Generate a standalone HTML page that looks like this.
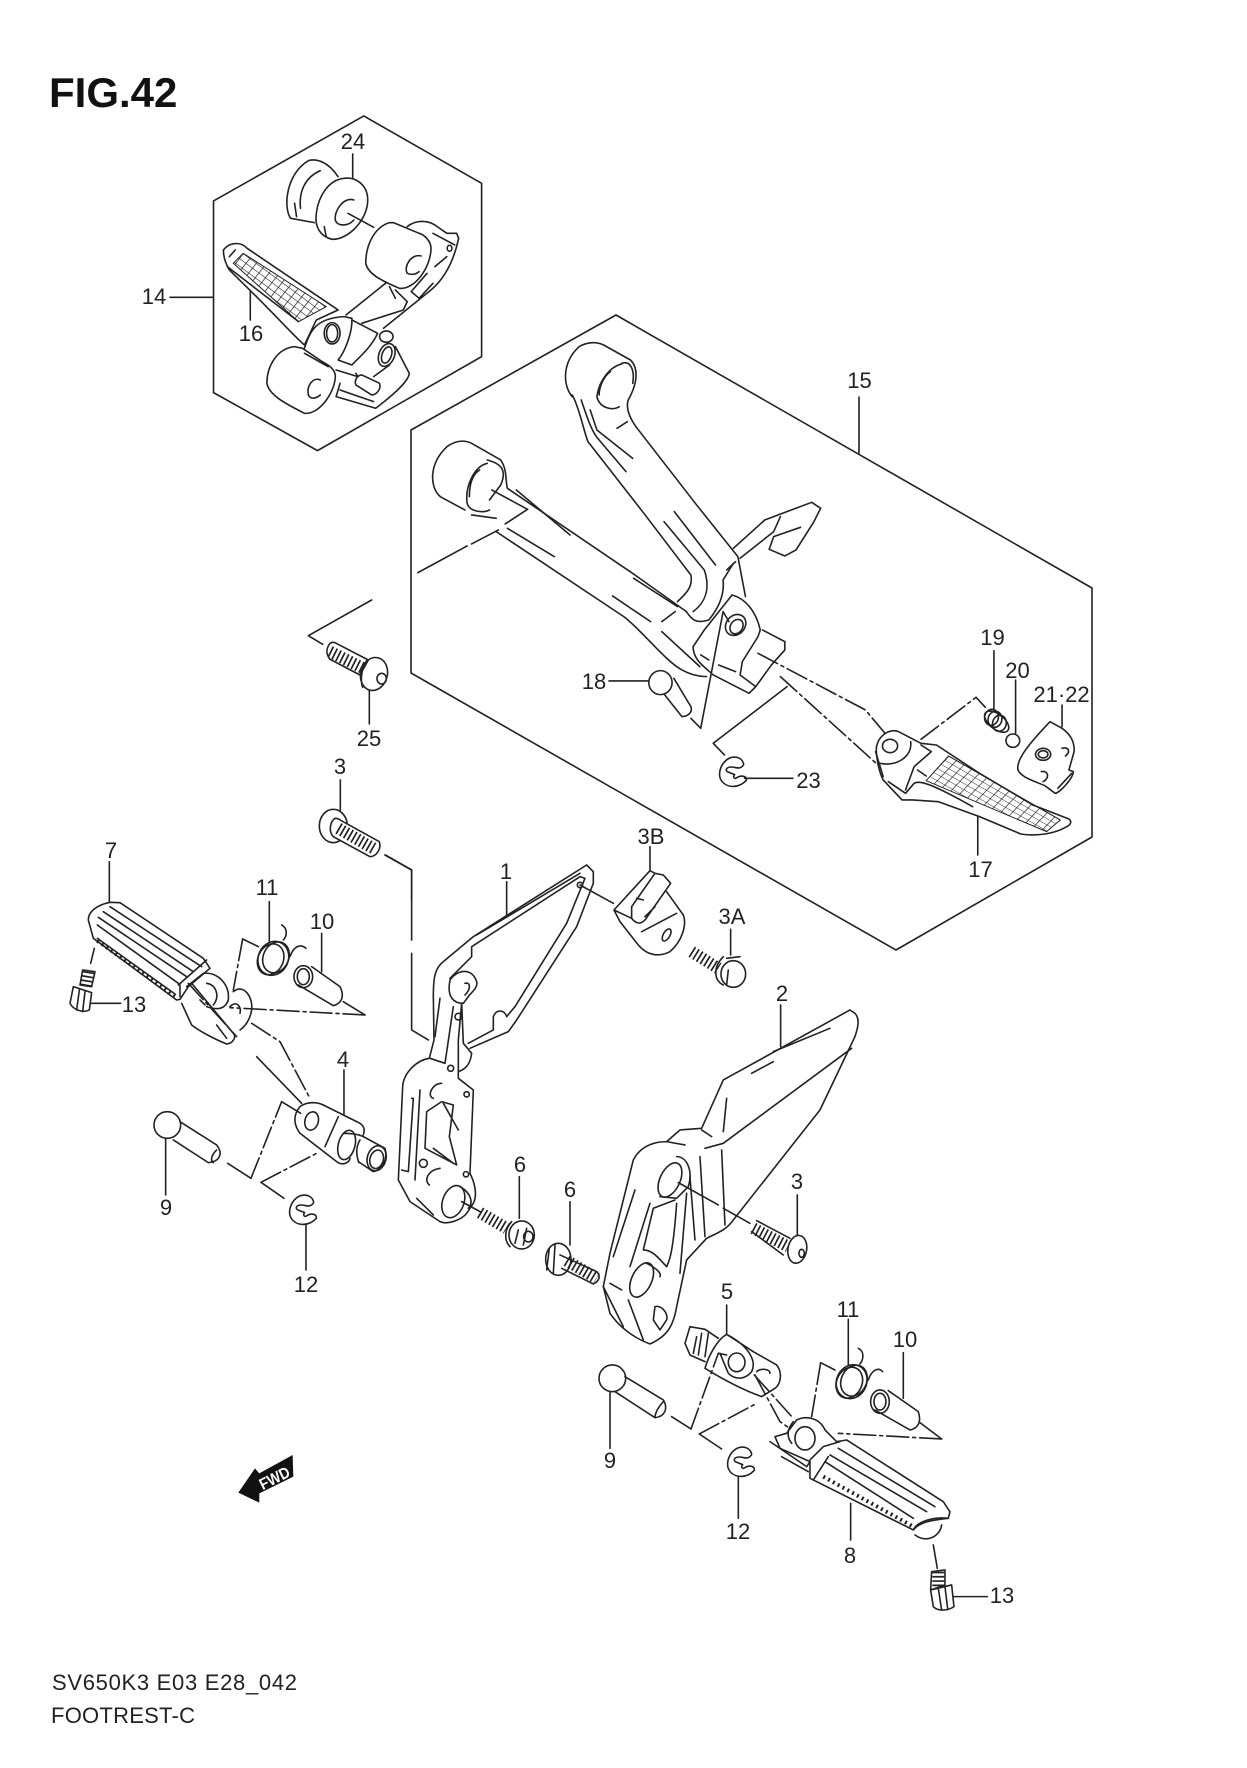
<!DOCTYPE html>
<html><head><meta charset="utf-8"><style>
html,body{margin:0;padding:0;background:#fff}
svg{display:block}
path,ellipse,circle,polygon{vector-effect:non-scaling-stroke}
.l path,.l ellipse,.l circle,.l polygon{fill:none;stroke:#222;stroke-width:1.6;stroke-linecap:round;stroke-linejoin:round}
.l .w{fill:#fff}
.l .dd{stroke-dasharray:22 4 3 4}
.l .th{stroke-width:12;stroke-dasharray:1.7 2.6;stroke-linecap:butt}
.l .tt{stroke-width:4;stroke-dasharray:2 3.5;stroke-linecap:butt}
text{font-family:"Liberation Sans",sans-serif;font-size:22px;fill:#222;text-anchor:middle}
</style></head><body>
<svg width="1247" height="1768" viewBox="0 0 1247 1768" xmlns="http://www.w3.org/2000/svg">
<defs>
<pattern id="g1" patternUnits="userSpaceOnUse" width="10" height="10" patternTransform="matrix(1.64 1.44 -.96 1.44 615 760)"><path d="M0 0H10M0 0V10" fill="none" stroke="#222" stroke-width="1.8"/></pattern>
<pattern id="g2" patternUnits="userSpaceOnUse" width="10" height="10" patternTransform="matrix(2.2 1.3 -1.1 1.2 330 408)"><path d="M0 0H10M0 0V10" fill="none" stroke="#222" stroke-width="1.6"/></pattern>
</defs>
<rect width="1247" height="1768" fill="#fff"/>

<!-- hexagon frames -->
<g class="l">
<path d="M616 315L1092 588V837L896 950L411 673V430Z"/>
<path d="M859 397V453"/>
</g>

<!-- zoom1 group: part 14 -->
<g class="l" transform="translate(0,0) scale(.3954,.3333)">
<path d="M920 348L1218 550V1070L803 1352L540 1178V603Z"/>
<path d="M430 892H540M892 462V540M633 875V960"/>
<path d="M735 655C715 620 725 520 780 482C800 475 830 485 855 530M760 625C755 570 775 530 810 512M735 655L795 668M745 610L750 650"/>
<path class="w" d="M870 535C900 530 930 555 930 600C930 660 880 720 840 718C810 710 795 680 800 640C805 590 830 540 870 535Z"/>
<path d="M895 600C870 590 845 630 848 660C852 680 880 680 895 660M820 680L825 710M880 640L945 682"/>
<path d="M1030 680C1050 660 1080 660 1100 675L1130 700L1155 700L1160 715C1150 770 1130 830 1090 870L970 985M1095 700L1150 735M1080 820L1040 875L1060 895L1095 850M1100 800L1130 770"/>
<ellipse cx="1137" cy="745" rx="6" ry="9"/>
<path class="w" d="M985 668C950 680 925 730 925 790C930 820 960 840 1010 865C1050 870 1090 800 1090 745C1090 725 1075 705 1060 700L995 668Z"/>
<path d="M1065 768C1040 760 1020 800 1030 820C1040 825 1050 825 1060 815"/>
<path d="M975 850L875 945M1000 870L1030 905L1020 930L915 970M985 860L1000 895"/>
<path class="w" d="M565 750C580 725 610 725 625 745L855 930L800 960L770 1035C745 1010 700 950 640 880L580 810C575 800 565 780 565 750Z"/>
<polygon points="590,790 615,760 825,920 755,965" style="fill:url(#g1);stroke-width:1"/>
<path d="M575 800L755 965M580 770L595 750"/>
<path class="w" d="M770 1045C785 990 800 955 870 950L890 955C892 1000 870 1060 855 1080L890 1095C910 1070 940 1040 955 1000L890 960"/>
<ellipse cx="840" cy="1000" rx="20" ry="32"/><ellipse cx="840" cy="1000" rx="14" ry="26"/>
<path d="M1000 1040L1035 1120C1035 1140 1000 1180 950 1225L850 1190L860 1150M860 1170L945 1205M850 1110L905 1130L900 1120"/>
<ellipse cx="978" cy="1065" rx="20" ry="35" transform="rotate(15 978 1065)"/><ellipse cx="978" cy="1065" rx="12" ry="25" transform="rotate(15 978 1065)"/><circle cx="977" cy="1010" r="17"/>
<path d="M985 1095L945 1130"/>
<path class="w" d="M915 1125L960 1150C965 1170 950 1185 940 1185L900 1155C895 1140 905 1125 915 1125Z"/>
<path class="w" d="M745 1040C700 1045 675 1100 675 1150C680 1185 720 1210 770 1240C810 1245 850 1170 848 1125C845 1105 830 1095 815 1085L765 1045Z"/>
<path d="M810 1140C790 1130 775 1160 780 1185C785 1200 800 1195 810 1185M770 1060L830 1100"/>
</g>

<!-- zoom2 group: part 15 -->
<g class="l" transform="translate(400,300) scale(.4475,.3333)">
<path d="M385 290C365 260 360 190 400 140C420 125 440 125 455 135L515 180C530 200 535 240 510 300C505 320 510 350 530 385L660 610L755 770L772 890"/>
<path d="M385 285C400 320 410 390 420 425L545 640L650 825C655 860 640 880 620 905"/>
<path d="M495 192C470 200 445 240 440 290C445 320 470 335 490 320M495 190C515 180 525 210 520 250M470 215C455 230 445 260 445 285M405 300C420 360 430 400 445 420L505 515M425 330L440 390L520 475M485 385L508 365"/>
<path d="M590 665L680 810C695 870 680 910 655 935M613 635L705 795M730 810L750 785"/>
<path d="M90 590C65 560 65 490 105 440C125 420 145 420 160 430L225 480C240 510 235 540 240 565L525 825L640 935C655 965 665 970 690 960C715 920 725 880 722 840L745 790"/>
<path d="M90 590L145 630M215 695L500 950C540 990 590 1080 630 1110C650 1125 670 1130 685 1130"/>
<path d="M195 490C165 500 145 560 150 610C155 635 185 640 200 630M195 480C225 490 240 510 225 555L200 600M178 510C160 525 155 560 155 590M160 645L215 655M205 570L285 628M240 685L345 770M260 570L380 705M522 835L620 920M475 888L560 965M585 995L670 1100M585 965L615 935"/>
<path d="M285 628L235 672M220 690L160 732M150 738L40 818"/>
<path d="M745 745L815 660L920 607L940 625L925 665L885 750L860 768L825 748L835 710L895 682M760 775L835 695L850 650"/>
<path d="M742 885C770 895 795 930 805 990L800 1010L765 1085L760 1125L795 1160L830 1095L860 1050L860 1025L810 990M742 885L680 990L655 1040C655 1080 680 1100 700 1125L780 1180L795 1160"/>
<ellipse cx="750" cy="975" rx="22" ry="32" transform="rotate(15 750 975)"/><ellipse cx="752" cy="980" rx="14" ry="22" transform="rotate(15 752 980)"/>
<path d="M672 1065L690 1080M712 1095L750 1115"/>
<path d="M722 935L672 1285L650 1255M722 935L735 965"/>
<ellipse cx="582" cy="1148" rx="26" ry="36"/>
<path d="M590 1182L630 1250M612 1135L650 1220C655 1240 640 1250 630 1250M467 1143H555"/>
<path d="M865 1160L700 1330L725 1365"/>
<path class="dd" d="M850 1130L1068 1395"/>
<path class="dd" d="M800 1060L1040 1230L1090 1310"/>
<path d="M770 1435H878"/>
</g>

<!-- E-clips -->
<g class="l">
<path transform="translate(733,772) scale(.3333) translate(-730,-1110)" d="M762 1088C760 1070 740 1060 720 1068C695 1080 685 1110 692 1130C705 1158 745 1162 770 1135C772 1122 755 1118 740 1128C735 1132 728 1125 735 1118L715 1110C705 1105 710 1095 725 1095C740 1095 750 1105 762 1088Z"/>
<path transform="translate(303,1210) scale(.3333) translate(-730,-1110)" d="M762 1088C760 1070 740 1060 720 1068C695 1080 685 1110 692 1130C705 1158 745 1162 770 1135C772 1122 755 1118 740 1128C735 1132 728 1125 735 1118L715 1110C705 1105 710 1095 725 1095C740 1095 750 1105 762 1088Z"/>
<path transform="translate(741,1462) scale(.3333) translate(-730,-1110)" d="M762 1088C760 1070 740 1060 720 1068C695 1080 685 1110 692 1130C705 1158 745 1162 770 1135C772 1122 755 1118 740 1128C735 1132 728 1125 735 1118L715 1110C705 1105 710 1095 725 1095C740 1095 750 1105 762 1088Z"/>
</g>

<!-- zoom8 group: peg 17 -->
<g class="l" transform="translate(835,620) scale(.344,.3333)">
<path class="w" d="M120 385C125 345 160 325 185 335L250 370L295 375L420 460L575 555L680 597C690 605 685 615 670 622C640 640 590 650 540 642L420 590L300 545L225 540L195 540L140 480C130 460 120 420 120 385Z"/>
<polygon points="330,408 655,600 615,635 265,482" style="fill:url(#g2);stroke-width:1"/>
<ellipse cx="160" cy="378" rx="22" ry="20"/>
<path d="M220 365C225 410 180 440 130 430M280 395L250 375M280 395L230 440L205 510M205 520L230 490C245 480 280 490 400 560M240 450L265 468M118 395L140 470M155 485L205 520"/>
<path class="dd" d="M250 358L410 232"/><path d="M410 232L437 262"/>
<ellipse cx="470" cy="305" rx="42" ry="22" transform="rotate(40 470 305)"/><ellipse cx="455" cy="292" rx="20" ry="24" transform="rotate(10 455 292)"/><ellipse cx="465" cy="298" rx="20" ry="24" transform="rotate(10 465 298)"/><ellipse cx="478" cy="310" rx="20" ry="24" transform="rotate(10 478 310)"/>
<path d="M462 92V265M525 180V340M660 255V320"/>
<circle cx="517" cy="362" r="20"/>
<path d="M625 305L660 325C680 340 697 360 695 395L680 450L693 455C690 480 650 520 640 520L610 497C570 480 540 470 532 450C525 420 565 370 625 305Z"/>
<ellipse cx="605" cy="403" rx="22" ry="18"/><ellipse cx="605" cy="403" rx="14" ry="11"/>
<path d="M648 505L688 460M660 385C680 380 685 395 670 408M600 455C620 450 625 475 605 485"/>
<path d="M415 590V705"/>
</g>

<!-- zoom7 group: bolts 25, 3 -->
<g class="l" transform="translate(280,600) scale(.3333)">
<path d="M275 0L85 107L128 133"/>
<path d="M150 130C135 150 140 165 150 178L240 225L265 180L165 128C160 126 155 127 150 130Z"/>
<path class="th" d="M150 155L250 205"/>
<ellipse cx="282" cy="222" rx="40" ry="50" transform="rotate(15 282 222)"/>
<path d="M262 180C245 200 240 240 248 262"/>
<ellipse cx="305" cy="236" rx="14" ry="16"/>
<path d="M268 272V372"/>
<path d="M181 540V630"/>
<ellipse cx="160" cy="678" rx="42" ry="50"/>
<path class="w" d="M165 655C150 665 145 695 160 710L270 770C290 770 305 745 298 725L180 660C175 655 170 655 165 655Z"/>
<path class="th" d="M175 685L285 748"/>
<path d="M316 765L395 810V900"/>
</g>

<!-- zoom3 group: left peg etc -->
<g class="l" transform="translate(60,840) scale(.3333)">
<path d="M148 65V187"/>
<path class="w" d="M150 187L180 188L430 355L450 385L385 440L360 478L350 480L100 295L85 240C85 215 110 195 150 187Z"/>
<path d="M150 200L425 380M130 215L400 395M115 232L380 410M112 255L355 430M355 435L440 360M360 470L360 435"/>
<path d="M112 295L345 462"/><path class="tt" d="M112 302L345 469"/>
<path d="M380 440L430 400C470 395 510 430 505 480C495 510 470 510 440 500M365 490L395 555C420 575 470 600 500 612C520 610 530 590 520 580L395 430M440 430C470 435 480 470 460 495M470 555L500 595M420 480L435 495"/>
<path d="M520 455C550 430 580 470 575 510C570 540 555 560 540 570M510 500C530 480 545 500 540 520"/>
<path d="M103 325L92 370M68 390L105 395L95 440L60 435ZM40 440L95 458L88 510C70 520 40 510 30 490ZM92 490H182M58 450L50 510M75 455L68 515"/>
<path class="th" d="M85 395L78 438"/>
<path d="M628 185V305"/>
<ellipse cx="640" cy="355" rx="45" ry="52" transform="rotate(25 640 355)"/><ellipse cx="632" cy="358" rx="38" ry="48" transform="rotate(25 632 358)"/><ellipse cx="648" cy="352" rx="38" ry="48" transform="rotate(25 648 352)"/>
<path d="M665 255C685 265 680 290 670 300M690 350C700 320 720 310 738 325"/>
<path d="M595 320L548 297"/><path class="dd" d="M548 297L520 450"/>
<ellipse cx="730" cy="410" rx="28" ry="33"/><ellipse cx="730" cy="410" rx="18" ry="24"/>
<path d="M755 380L840 440C855 470 845 490 820 497L715 435M785 280V395"/>
<path d="M850 485L915 525"/><path class="dd" d="M915 525L510 503"/>
<path class="dd" d="M385 430L530 590"/><path d="M590 650L725 790"/>
<path class="dd" d="M575 550L660 605L750 775"/>
<path d="M720 800C740 785 770 785 790 795L890 845C915 855 915 870 910 885M720 800C695 830 705 860 720 880L830 965C850 980 870 965 870 955M835 830L795 920M852 690V825"/>
<ellipse cx="755" cy="843" rx="20" ry="28" transform="rotate(15 755 843)"/>
<ellipse cx="860" cy="915" rx="25" ry="45" transform="rotate(15 860 915)"/>
<path d="M850 880C880 880 900 885 910 890L975 925C985 960 965 990 940 995L895 965M900 900C885 925 890 950 897 968"/>
<ellipse cx="950" cy="955" rx="28" ry="38" transform="rotate(15 950 955)"/><ellipse cx="950" cy="958" rx="20" ry="28" transform="rotate(15 950 958)"/>
<circle cx="322" cy="855" r="40"/>
<path d="M360 845L470 915C490 940 480 965 445 968L340 900M470 930C455 945 450 960 460 968M317 895V1065"/>
<path d="M503 970L573 1015"/><path class="dd" d="M573 1015L665 785"/><path d="M665 785L722 820"/>
<path class="dd" d="M603 1027L770 940"/><path d="M603 1027L672 1075"/>
<path d="M738 1155V1290"/>
<path d="M975 45L1055 90V300M1055 340V570L1105 600"/>
</g>

<!-- zoom4 group: parts 1,2,6,3,3A,3B -->
<g class="l" transform="translate(390,840) scale(.3333)">
<path d="M350 125V225"/>
<path d="M590 75L250 290L160 365C135 385 130 410 130 470L132 600L118 655C80 660 40 700 38 740L25 1020L60 1085L150 1145C170 1155 215 1140 230 1120L250 1090C265 1060 250 1020 240 1000L250 750L205 715V600L215 490"/>
<path d="M590 75L610 95L610 130L560 260L380 540L355 575L240 625M235 610L310 570L310 530C320 505 345 510 350 530L375 500L530 250L585 115L570 110L245 320L245 350L180 415M260 285L570 100M350 230L375 215"/>
<circle cx="570" cy="135" r="8"/>
<path d="M180 420C200 390 245 380 260 425C265 445 240 460 235 470L220 490C190 490 170 470 180 420M225 430C240 425 245 445 225 465M150 475L135 590M190 500L165 670M215 490L220 610L245 640C240 680 220 690 205 695M120 655L165 670"/>
<circle cx="205" cy="530" r="10"/><circle cx="182" cy="685" r="9"/><circle cx="230" cy="763" r="8"/><circle cx="100" cy="970" r="12"/><circle cx="228" cy="1003" r="8"/>
<path d="M155 730C125 730 110 770 130 775M110 815L155 785L190 795L178 890L200 975L105 925ZM160 790L205 870M130 925L190 970M65 775L70 775L55 995L35 990M90 750L75 1020M150 985C115 990 100 1020 118 1035M80 1075L130 1125"/>
<ellipse cx="190" cy="1085" rx="32" ry="50" transform="rotate(20 190 1085)"/>
<path d="M210 1040C245 1060 250 1090 235 1105M570 135L670 190M215 1085L270 1115M388 1010V1135"/>
<path class="th" d="M270 1118L350 1165"/>
<ellipse cx="395" cy="1185" rx="38" ry="42"/>
<path d="M365 1145C345 1165 340 1200 360 1220M385 1170L375 1210M410 1165L400 1215"/><ellipse cx="415" cy="1190" rx="14" ry="16"/>
<path d="M540 1085V1215"/>
<ellipse cx="505" cy="1258" rx="38" ry="48"/><path d="M478 1225L470 1290M495 1215L490 1300"/>
<path class="th" d="M530 1262L620 1315"/>
<path d="M510 1245L620 1295C635 1310 625 1325 610 1332L515 1285"/>
<path class="w" d="M1380 510L1395 520C1410 535 1405 560 1395 590L1290 810L1030 1140C1010 1170 980 1180 950 1195L890 1260L860 1400C850 1460 830 1490 780 1512C720 1490 680 1450 660 1420L640 1340L660 1240L730 960C750 920 790 905 830 905L870 870L935 865L1000 720Z"/>
<path d="M1385 625L1000 910L945 925M885 915L830 905M1085 700L1150 665M1150 635L1320 565M1010 775L1000 875M935 870L965 890M995 930L1005 1155M930 950L945 1190M900 1010L915 1200"/>
<ellipse cx="840" cy="1020" rx="30" ry="55" transform="rotate(25 840 1020)"/>
<path d="M860 950C890 950 910 990 895 1040L860 1075L810 1070M855 1080L790 1105L760 1230C790 1230 810 1260 830 1280C840 1260 850 1230 860 1090M735 1050L670 1250M780 1090L720 1280M890 1060L870 1300"/>
<ellipse cx="755" cy="1320" rx="30" ry="55" transform="rotate(25 755 1320)"/>
<path d="M770 1270C800 1285 815 1300 810 1310M660 1330L695 1350M640 1340L700 1460M715 1380L760 1500M795 1400C815 1395 835 1420 830 1440L810 1470L790 1440Z"/>
<path d="M1172 495V620M865 1028L985 1095M1000 1105L1080 1150M1222 1065V1185"/>
<path class="th" d="M1090 1165L1195 1220"/>
<path d="M1100 1142L1200 1195M1085 1175L1180 1245"/>
<ellipse cx="1222" cy="1228" rx="28" ry="42" transform="rotate(10 1222 1228)"/><ellipse cx="1235" cy="1240" rx="8" ry="12"/>
<path class="th" d="M905 335L985 385"/>
<ellipse cx="1030" cy="402" rx="37" ry="40"/>
<path d="M1000 350C970 380 970 420 1000 435M1010 355L1050 350M1015 390L1010 435M1022 268V345"/>
<path d="M780 92L672 210L690 245L745 315C775 350 810 350 840 335C880 300 890 250 880 225L830 155M672 210L725 235C745 260 760 245 765 240L842 130L820 105L795 100L725 200L725 235M755 275L860 220M780 92L795 100M780 20V92M740 175L760 180M765 230L795 200"/>
<ellipse cx="830" cy="285" rx="10" ry="20" transform="rotate(30 830 285)"/>
</g>

<!-- zoom5 group: right peg etc -->
<g class="l" transform="translate(580,1240) scale(.3333)">
<path d="M440 195V283"/>
<path d="M440 283L520 335L590 375C610 400 600 435 585 445L545 470C490 450 440 425 375 385C385 350 410 300 440 283ZM440 283C510 320 530 365 515 395C495 420 465 420 445 400L420 340"/>
<ellipse cx="470" cy="367" rx="25" ry="28"/>
<path d="M415 295L375 268L330 260L315 310L330 345L375 365M350 290L340 340M365 280L355 345M385 280L375 350M530 395C540 385 570 385 570 400"/>
<path class="dd" d="M523 405L640 535"/><path class="dd" d="M525 405L600 545L665 590"/>
<path class="w" d="M650 540C680 525 720 535 735 570L770 605L800 600L1090 785L1110 815L1105 835C1060 840 1020 845 1000 870L690 715L690 665L600 625L585 590L620 580Z"/>
<ellipse cx="675" cy="595" rx="30" ry="35"/>
<path d="M640 545C620 570 620 590 635 610M570 605L680 680L690 665M690 660L730 620L780 605M735 665L1000 835M750 645L1040 815M775 625L1065 800M745 650L700 720M1000 870C1010 845 1060 830 1105 835M605 650L685 695"/>
<path class="tt" d="M730 710L1000 860"/>
<path d="M1005 885C1040 910 1080 890 1085 855M812 790V900M1060 915L1072 985"/>
<path d="M1055 995L1095 990L1095 1035L1052 1050ZM1052 1050L1115 1035L1122 1100C1105 1112 1075 1115 1060 1100ZM1120 1070H1222M1075 1045L1085 1110M1095 1040L1103 1105"/>
<path class="th" d="M1075 995L1075 1040"/>
<ellipse cx="815" cy="425" rx="45" ry="52" transform="rotate(25 815 425)"/><ellipse cx="808" cy="428" rx="38" ry="48" transform="rotate(25 808 428)"/><ellipse cx="822" cy="422" rx="38" ry="48" transform="rotate(25 822 422)"/>
<path d="M805 238V375M835 325C855 335 850 360 840 372M865 420C875 390 895 380 908 395M765 390L722 368"/>
<path class="dd" d="M722 368L695 530"/>
<ellipse cx="900" cy="485" rx="28" ry="35"/><ellipse cx="900" cy="485" rx="18" ry="25"/>
<path d="M925 452L1015 515C1025 545 1015 565 990 570L885 510M970 338V475M1020 548L1085 597"/>
<path class="dd" d="M1085 597L775 580"/>
<circle cx="97" cy="415" r="40"/>
<path d="M135 410L250 480C265 505 255 530 225 533L105 455M250 485C235 500 225 520 225 533M90 455V625M275 530L333 567"/>
<path class="dd" d="M333 567L415 340"/><path d="M415 340L440 345"/>
<path class="dd" d="M358 582L530 490"/><path d="M358 582L425 627"/>
<path d="M475 710V835"/>
</g>

<!-- FWD arrow -->
<g transform="translate(0,1440) scale(.3333)">
<polygon points="715,158 765,85 778,100 878,45 880,110 778,160 778,188" fill="#111"/>
</g>
<text x="0" y="0" transform="translate(277,1483) rotate(-27)" style="font-size:16px;fill:#fff;font-weight:bold" textLength="32" lengthAdjust="spacingAndGlyphs">FWD</text>

<!-- labels -->
<text x="49" y="107" style="font-size:42px;font-weight:bold;text-anchor:start;fill:#111">FIG.42</text>
<text x="353" y="149">24</text>
<text x="154" y="304">14</text>
<text x="251" y="341">16</text>
<text x="859.5" y="388">15</text>
<text x="594" y="689">18</text>
<text x="992.5" y="645">19</text>
<text x="1017.5" y="678">20</text>
<text x="1061.5" y="702">21·22</text>
<text x="808.5" y="788">23</text>
<text x="980.5" y="877">17</text>
<text x="651" y="844">3B</text>
<text x="732" y="924">3A</text>
<text x="369" y="746">25</text>
<text x="340" y="774">3</text>
<text x="506" y="879">1</text>
<text x="111" y="858">7</text>
<text x="267" y="895">11</text>
<text x="322" y="929">10</text>
<text x="134" y="1012">13</text>
<text x="343" y="1067">4</text>
<text x="166" y="1215">9</text>
<text x="306" y="1292">12</text>
<text x="520" y="1172">6</text>
<text x="570" y="1197">6</text>
<text x="782" y="1001">2</text>
<text x="797" y="1189">3</text>
<text x="727" y="1299">5</text>
<text x="848" y="1317">11</text>
<text x="905" y="1347">10</text>
<text x="610" y="1468">9</text>
<text x="738" y="1539">12</text>
<text x="850" y="1563">8</text>
<text x="1002" y="1603">13</text>
<text x="52" y="1690" style="text-anchor:start" textLength="245" lengthAdjust="spacing">SV650K3 E03 E28_042</text>
<text x="51" y="1723" style="text-anchor:start" textLength="144" lengthAdjust="spacing">FOOTREST-C</text>
</svg>
</body></html>
